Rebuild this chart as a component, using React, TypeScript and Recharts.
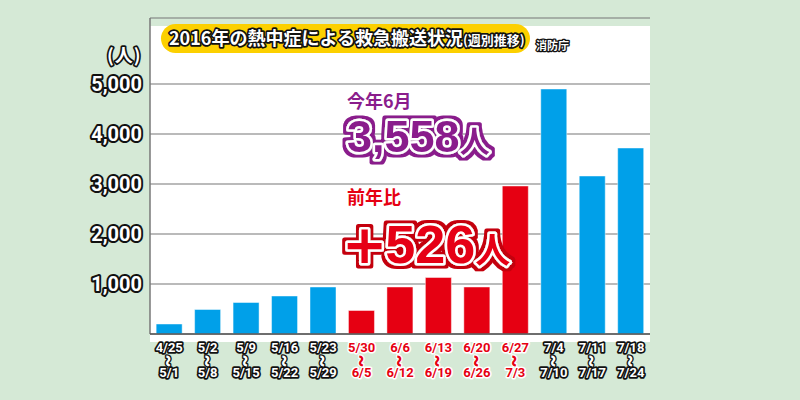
import { BarChart, Bar, XAxis, YAxis, CartesianGrid, Cell } from "recharts"

// 熱中症による救急搬送人員（週別）
const weekStarts = ["4/25", "5/2", "5/9", "5/16", "5/23", "5/30", "6/6", "6/13", "6/20", "6/27", "7/4", "7/11", "7/18"]
const weekEnds = ["5/1", "5/8", "5/15", "5/22", "5/29", "6/5", "6/12", "6/19", "6/26", "7/3", "7/10", "7/17", "7/24"]
const transports = [200, 490, 630, 760, 940, 470, 940, 1130, 940, 2960, 4900, 3160, 3720]
const juneWeeks = [5, 6, 7, 8, 9]
const yTicks = [1000, 2000, 3000, 4000, 5000]

const BLUE = "#00a0e9"
const RED = "#e60012"
const PURPLE = "#8a1d8c"
const BG = "#d5e9d6"
const ROUND = "Roboto, 'Noto Sans', sans-serif"
const JP = "'Noto Sans CJK JP', sans-serif"
const BIG = "'Liberation Sans', Arial, sans-serif"

const data = weekStarts.map((start, i) => ({ start, end: weekEnds[i], value: transports[i] }))

function YTick({ y, payload }: any) {
  return (
    <text
      x={142}
      y={y}
      dy="0.35em"
      textAnchor="end"
      fontFamily={ROUND}
      fontWeight={700}
      fontSize={20}
      fill="#fff"
      stroke="#111"
      strokeWidth={4}
      strokeLinejoin="round"
      paintOrder="stroke"
    >
      {payload.value.toLocaleString("en-US")}
    </text>
  )
}

function XTick({ x, y, payload }: any) {
  const i = payload.index
  const hot = juneWeeks.includes(i)
  const common = {
    textAnchor: "middle" as const,
    fontFamily: ROUND,
    fontWeight: 700,
    fontSize: 13,
    fill: hot ? RED : "#fff",
    stroke: hot ? "#fff" : "#111",
    strokeWidth: hot ? 3 : 3.4,
    strokeLinejoin: "round" as const,
    paintOrder: "stroke",
  }
  const waveY = y + 19
  return (
    <g>
      <text {...common} x={x} y={y + 10}>
        {weekStarts[i]}
      </text>
      <text
        {...common}
        x={x}
        y={waveY}
        dominantBaseline="central"
        fontSize={20}
        strokeWidth={hot ? 2.5 : 2.8}
        transform={`rotate(90 ${x} ${waveY})`}
      >
        ~
      </text>
      <text {...common} x={x} y={y + 35}>
        {weekEnds[i]}
      </text>
    </g>
  )
}

export default function App() {
  return (
    <div style={{ position: "absolute", left: 0, top: 0, width: 800, height: 400, background: BG, overflow: "hidden" }}>
      <div style={{ position: "absolute", left: 150, top: 26, width: 500, height: 316, background: "#fff" }} />
      <div style={{ position: "absolute", left: 0, top: 0 }}>
        <BarChart
          width={800}
          height={400}
          data={data}
          margin={{ top: 18, right: 150, bottom: 0, left: 0 }}
          barCategoryGap="16%"
        >
          <CartesianGrid vertical={false} stroke="#777" strokeWidth={1.2} />
          <YAxis
            width={150}
            domain={[0, 6320]}
            ticks={yTicks}
            axisLine={{ stroke: "#777", strokeWidth: 1.5 }}
            tickLine={false}
            tick={<YTick />}
            allowDataOverflow
          />
          <XAxis
            dataKey="start"
            height={66}
            interval={0}
            axisLine={{ stroke: "#555", strokeWidth: 1.5 }}
            tickLine={false}
            tick={<XTick />}
          />
          <Bar dataKey="value" isAnimationActive={false} stroke="rgba(255,255,255,0.45)" strokeWidth={1}>
            {data.map((_, i) => (
              <Cell key={i} fill={juneWeeks.includes(i) ? RED : BLUE} />
            ))}
          </Bar>
        </BarChart>
      </div>
      <svg width={800} height={400} style={{ position: "absolute", left: 0, top: 0, pointerEvents: "none" }}>
        <defs>
          <filter id="ringPurple" x="-4%" y="-10%" width="108%" height="120%">
            <feMorphology in="SourceAlpha" operator="dilate" radius="2.5" result="grown" />
            <feFlood floodColor={PURPLE} />
            <feComposite in2="grown" operator="in" result="ring" />
            <feMerge>
              <feMergeNode in="ring" />
              <feMergeNode in="SourceGraphic" />
            </feMerge>
          </filter>
          <filter id="ringRed" x="-4%" y="-10%" width="108%" height="120%">
            <feMorphology in="SourceAlpha" operator="dilate" radius="2.5" result="grown" />
            <feFlood floodColor="#c4000f" />
            <feComposite in2="grown" operator="in" result="ring" />
            <feMerge>
              <feMergeNode in="ring" />
              <feMergeNode in="SourceGraphic" />
            </feMerge>
          </filter>
        </defs>
        <text x={107} y={62} fontFamily={JP} fontWeight={700} fontSize={18} letterSpacing={1} fill="#fff" stroke="#111" strokeWidth={3.5} strokeLinejoin="round" paintOrder="stroke">
          (人)
        </text>
        <rect x={161} y={24} width={369} height={29} rx={14.5} fill="#fcd000" />
        <text x={169} y={45} fontFamily={JP} fontWeight={700} fill="#fff" stroke="#111" strokeWidth={3.4} strokeLinejoin="round" paintOrder="stroke">
          <tspan fontSize={18}>2016年の熱中症による救急搬送状況</tspan>
          <tspan fontSize={13}>(週別推移)</tspan>
        </text>
        <text x={536} y={50} fontFamily={JP} fontWeight={700} fontSize={11} fill="#fff" stroke="#111" strokeWidth={2.6} strokeLinejoin="round" paintOrder="stroke">
          消防庁
        </text>

        <text x={347} y={108} fontFamily={JP} fontWeight={700} fontSize={18} fill={PURPLE} stroke="#fff" strokeWidth={3} strokeLinejoin="round" paintOrder="stroke">
          今年6月
        </text>
        <text x={347} y={152} fontFamily={BIG} fontWeight={700} fontSize={45} fill={PURPLE} stroke="#fff" strokeWidth={5} strokeLinejoin="round" paintOrder="stroke" filter="url(#ringPurple)">
          3,558<tspan fontSize={30} fontFamily={JP}>人</tspan>
        </text>

        <text x={347} y={204} fontFamily={JP} fontWeight={700} fontSize={18} fill={RED} stroke="#fff" strokeWidth={3} strokeLinejoin="round" paintOrder="stroke">
          前年比
        </text>
        <text x={342} y={263} fontFamily={BIG} fontWeight={700} fontSize={54} fill={RED} stroke="#fff" strokeWidth={5} strokeLinejoin="round" paintOrder="stroke" filter="url(#ringRed)">
          <tspan fontFamily="'DejaVu Sans', sans-serif" fontSize={54}>+</tspan><tspan dx={-2}>526</tspan><tspan fontSize={35} fontFamily={JP}>人</tspan>
        </text>
      </svg>
    </div>
  )
}
